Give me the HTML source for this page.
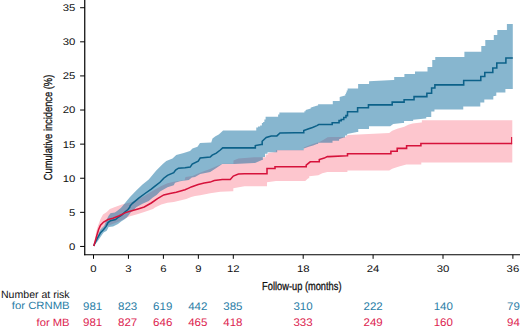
<!DOCTYPE html>
<html><head><meta charset="utf-8"><title>Cumulative incidence</title>
<style>
html,body{margin:0;padding:0;background:#fff;}
body{width:520px;height:329px;overflow:hidden;font-family:"Liberation Sans",sans-serif;}
svg{display:block;}
text{font-family:"Liberation Sans",sans-serif;text-rendering:geometricPrecision;}
.t{font-size:9.7px;fill:#111;}
.c{font-size:11.6px;fill:#111;stroke:#111;stroke-width:0.3px;}
.r{font-size:10.5px;}
.n{font-size:11px;stroke-width:0;}
</style></head><body>
<svg width="520" height="329" viewBox="0 0 520 329">
<rect width="520" height="329" fill="#fff"/>
<polygon points="93.80,245.50 94.25,243.80 96.10,232.00 98.00,225.75 100.50,218.90 103.00,214.50 106.75,212.00 109.90,208.90 115.00,207.00 122.00,204.50 130.00,202.50 136.25,200.20 142.50,197.00 148.75,193.30 155.00,189.50 161.25,186.00 167.50,183.30 173.75,181.70 180.00,180.80 184.50,180.30 185.50,177.00 192.50,176.00 197.50,173.75 203.75,171.25 210.00,169.00 216.25,166.25 222.50,163.75 232.50,163.75 233.45,163.75 233.45,160.60 238.40,158.40 254.00,157.15 264.40,157.15 265.65,157.15 265.65,154.40 268.15,154.40 268.15,153.10 275.00,151.90 275.95,151.90 275.95,150.10 302.50,150.10 303.75,150.10 303.75,147.60 310.00,145.00 315.00,143.20 320.00,141.70 324.00,139.50 327.50,137.18 331.25,137.01 345.00,137.01 348.10,134.90 389.20,132.90 392.20,130.70 397.20,128.70 404.30,126.70 408.30,124.70 412.50,123.60 421.25,122.40 421.88,122.40 421.88,120.25 512.30,120.25 512.30,162.40 421.30,162.40 421.30,164.60 420.30,164.60 406.30,164.60 398.20,166.80 392.20,168.80 389.20,170.50 347.40,170.50 347.40,172.00 346.40,172.00 327.30,172.00 322.30,173.20 318.30,175.20 309.20,176.20 309.20,178.20 308.20,178.20 305.20,181.00 276.00,181.00 267.00,182.20 267.00,186.22 266.00,186.22 254.00,186.22 244.40,186.25 233.30,188.20 233.30,191.20 232.30,191.20 220.30,191.80 210.20,193.20 200.20,195.20 195.00,196.00 191.25,196.90 186.25,199.00 180.00,200.60 173.75,201.90 167.50,202.75 161.25,204.40 155.00,207.50 153.00,208.90 144.25,212.00 138.00,213.90 129.25,216.60 119.00,221.50 108.00,225.75 103.60,227.00 100.50,230.75 98.00,237.00 94.25,245.50 93.80,246.30" fill="#fdc6ce"/>
<polygon points="93.80,245.50 94.25,243.80 100.50,229.50 104.25,225.75 106.75,219.50 108.60,215.75 110.50,213.25 114.90,212.60 117.40,210.75 120.50,208.25 121.75,207.00 130.00,196.90 136.25,190.60 142.50,184.40 148.75,179.40 150.00,178.00 156.25,170.50 162.50,164.25 166.25,161.10 172.50,158.60 176.25,154.90 183.75,153.00 190.00,151.10 192.50,148.60 197.50,146.75 200.00,143.00 211.25,142.40 212.50,138.60 215.50,136.30 218.75,134.40 221.00,132.50 223.10,130.55 255.60,130.55 256.25,130.55 256.25,127.50 257.95,127.50 257.95,126.50 260.12,126.50 260.12,125.60 261.88,125.60 261.88,123.10 263.12,123.10 263.12,121.90 264.38,121.90 264.38,119.50 265.62,119.50 265.62,116.65 277.50,116.65 278.12,116.65 278.12,114.40 279.38,114.40 279.38,112.40 303.75,112.40 304.38,112.40 304.38,111.20 305.62,111.20 305.62,110.00 310.00,108.75 310.62,108.75 310.62,107.80 312.50,106.90 317.50,105.60 318.12,105.60 318.12,104.15 332.50,104.15 332.80,104.15 332.80,100.97 339.40,100.97 339.70,100.97 339.70,96.90 345.00,95.60 345.30,95.60 345.30,94.00 345.93,94.00 345.93,92.50 346.73,92.50 346.73,90.50 347.65,90.50 347.65,88.47 357.50,88.47 358.12,88.47 358.12,84.10 368.75,84.10 369.07,84.10 369.07,81.25 393.20,80.10 394.20,80.10 394.20,77.00 404.40,77.00 404.40,74.00 415.00,74.00 415.00,71.50 427.50,71.50 427.50,67.10 432.25,67.10 432.25,60.00 435.25,60.00 435.25,57.10 464.40,57.10 464.40,51.70 481.30,51.70 481.30,46.10 485.30,46.10 485.30,40.10 493.30,40.10 493.80,40.10 493.80,35.10 497.30,35.10 497.30,30.00 506.40,30.00 506.90,30.00 506.90,24.00 512.80,24.00 512.80,88.90 505.40,88.90 505.40,92.50 504.90,92.50 496.30,92.50 496.30,95.70 495.80,95.70 493.30,96.30 493.30,99.40 492.80,99.40 484.30,99.40 484.30,102.50 483.80,102.50 480.30,102.50 480.30,106.50 479.80,106.50 463.25,106.50 463.25,109.40 462.60,109.40 434.45,109.40 434.45,111.42 434.40,111.42 431.25,111.42 431.25,117.08 430.60,117.08 426.25,117.08 426.25,118.60 425.60,118.60 413.12,119.75 413.12,121.12 412.50,121.12 404.05,121.12 404.05,122.90 403.10,122.90 402.20,122.90 393.20,124.00 390.20,126.30 369.00,126.30 369.00,129.00 368.00,129.00 358.25,129.00 358.25,131.90 357.00,131.90 347.18,133.90 347.18,135.50 345.00,135.50 345.00,137.40 343.75,137.40 339.05,139.25 339.05,140.80 338.10,140.80 332.50,140.80 332.50,142.70 331.25,142.70 318.15,142.70 318.15,144.00 316.90,144.00 313.10,145.50 308.75,146.75 303.75,148.60 303.75,150.18 302.50,150.18 295.00,150.18 277.18,150.25 277.18,152.20 276.25,152.20 267.50,152.20 267.50,153.75 265.00,153.75 265.00,156.90 262.82,156.90 262.82,160.00 261.90,160.00 255.00,163.10 254.00,163.10 234.30,164.10 222.30,164.10 216.30,168.10 210.20,172.10 200.20,174.10 195.00,176.90 191.90,177.50 188.75,180.00 180.00,181.25 175.00,182.80 173.75,185.30 167.50,187.15 160.00,191.50 156.90,194.65 152.50,197.80 148.75,200.90 142.50,203.65 136.25,207.15 135.50,207.90 133.60,210.40 131.10,212.00 129.25,214.50 126.75,217.60 124.25,219.50 121.10,221.40 118.00,223.90 113.00,226.40 108.60,227.00 106.75,230.75 103.60,232.60 100.50,237.00 98.00,240.75 94.25,245.50 93.80,246.30" fill="rgb(15,109,159)" fill-opacity="0.5"/>
<polyline points="93.80,246.00 94.25,244.50 97.40,238.25 100.50,232.60 103.60,229.50 106.10,226.40 108.00,222.60 110.50,220.75 115.50,219.50 118.60,217.00 121.75,215.10 124.90,212.00 128.00,209.50 129.90,207.00 130.00,206.10 132.50,203.30 138.75,198.10 145.00,193.50 151.25,189.10 155.00,186.10 160.00,182.25 163.75,178.20 167.50,175.30 173.75,172.60 175.60,170.00 178.50,168.20 185.00,167.75 190.20,167.10 192.20,164.10 198.20,161.10 200.20,158.10 210.20,157.10 212.20,155.10 216.30,153.10 220.30,150.00 222.70,147.88 254.40,147.88 255.32,147.88 255.32,145.60 261.25,144.40 262.18,144.40 262.18,141.25 266.25,137.50 271.25,135.93 276.90,135.93 280.00,132.93 295.00,132.71 302.50,132.71 303.75,132.71 303.75,130.60 308.75,128.75 312.50,127.50 316.90,125.60 318.75,124.58 331.25,124.58 332.18,124.58 332.18,122.80 338.10,122.80 339.05,122.80 339.05,120.60 341.25,120.60 341.25,119.40 343.75,119.40 343.75,117.50 345.95,117.50 345.95,115.60 347.50,115.60 347.50,111.65 356.50,111.65 357.62,111.65 357.62,107.75 367.50,107.75 368.45,107.75 368.45,104.88 391.25,104.88 392.18,104.88 392.18,102.12 403.20,102.12 404.10,102.12 404.10,99.70 413.10,99.70 414.05,99.70 414.05,96.60 426.25,96.60 426.88,96.60 426.88,93.30 431.30,93.30 431.60,93.30 431.60,87.90 434.60,87.90 434.90,87.90 434.90,84.85 463.20,84.85 463.70,84.85 463.70,80.40 480.30,80.40 480.80,80.40 480.80,76.40 484.30,76.40 484.80,76.40 484.80,72.40 492.30,72.40 492.80,72.40 492.80,68.00 496.30,68.00 496.80,68.00 496.80,63.00 505.40,63.00 505.90,63.00 505.90,58.00 512.80,58.00" fill="none" stroke="#0c6189" stroke-width="1.55" stroke-linejoin="miter"/>
<polyline points="93.80,246.00 94.25,244.50 96.75,235.75 98.60,229.50 100.50,225.10 103.60,222.00 108.00,219.50 113.00,218.25 119.25,215.75 125.50,212.60 131.75,210.75 138.00,208.90 144.25,207.00 151.25,203.00 157.50,198.60 163.75,194.90 170.00,193.50 176.25,192.30 185.00,189.80 188.75,188.10 191.25,186.90 198.20,184.50 204.20,183.10 210.20,182.10 214.30,180.50 222.30,179.40 230.30,179.40 233.30,176.10 238.40,174.10 244.40,173.80 254.00,173.70 266.00,173.70 267.00,173.70 267.00,168.50 274.00,168.50 275.00,168.50 275.00,166.80 305.20,166.80 306.20,166.80 306.20,165.20 310.20,161.80 318.30,161.80 319.30,161.80 319.30,159.50 324.30,158.10 327.30,156.60 328.80,156.60 346.90,155.80 347.50,155.80 347.50,153.80 390.60,153.80 390.90,153.80 390.90,151.15 396.90,151.15 397.20,151.15 397.20,148.35 406.30,148.35 406.60,148.35 406.60,145.80 420.60,145.80 420.90,145.80 420.90,143.40 512.10,143.40" fill="none" stroke="#d6123b" stroke-width="1.55" stroke-linejoin="miter"/>
<line x1="511.6" y1="137" x2="511.6" y2="144.2" stroke="#d9143d" stroke-width="1.1"/>
<line x1="84.75" y1="0" x2="84.75" y2="255.35" stroke="#000" stroke-width="1.2"/>
<line x1="84.15" y1="254.75" x2="520" y2="254.75" stroke="#000" stroke-width="1.2"/>
<line x1="80.1" y1="246.45" x2="84.75" y2="246.45" stroke="#000" stroke-width="1"/>
<line x1="80.1" y1="212.34" x2="84.75" y2="212.34" stroke="#000" stroke-width="1"/>
<line x1="80.1" y1="178.24" x2="84.75" y2="178.24" stroke="#000" stroke-width="1"/>
<line x1="80.1" y1="144.13" x2="84.75" y2="144.13" stroke="#000" stroke-width="1"/>
<line x1="80.1" y1="110.03" x2="84.75" y2="110.03" stroke="#000" stroke-width="1"/>
<line x1="80.1" y1="75.92" x2="84.75" y2="75.92" stroke="#000" stroke-width="1"/>
<line x1="80.1" y1="41.82" x2="84.75" y2="41.82" stroke="#000" stroke-width="1"/>
<line x1="80.1" y1="7.72" x2="84.75" y2="7.72" stroke="#000" stroke-width="1"/>
<line x1="93.50" y1="254.75" x2="93.50" y2="258.8" stroke="#000" stroke-width="1"/>
<line x1="128.45" y1="254.75" x2="128.45" y2="258.8" stroke="#000" stroke-width="1"/>
<line x1="163.40" y1="254.75" x2="163.40" y2="258.8" stroke="#000" stroke-width="1"/>
<line x1="198.35" y1="254.75" x2="198.35" y2="258.8" stroke="#000" stroke-width="1"/>
<line x1="233.30" y1="254.75" x2="233.30" y2="258.8" stroke="#000" stroke-width="1"/>
<line x1="303.20" y1="254.75" x2="303.20" y2="258.8" stroke="#000" stroke-width="1"/>
<line x1="373.10" y1="254.75" x2="373.10" y2="258.8" stroke="#000" stroke-width="1"/>
<line x1="443.00" y1="254.75" x2="443.00" y2="258.8" stroke="#000" stroke-width="1"/>
<line x1="512.90" y1="254.75" x2="512.90" y2="258.8" stroke="#000" stroke-width="1"/>
<g opacity="0.999">
<text class="t" x="75.4" y="249.85" text-anchor="end" textLength="6.3" lengthAdjust="spacingAndGlyphs">0</text>
<text class="t" x="75.4" y="215.75" text-anchor="end" textLength="6.3" lengthAdjust="spacingAndGlyphs">5</text>
<text class="t" x="75.4" y="181.64" text-anchor="end" textLength="12.6" lengthAdjust="spacingAndGlyphs">10</text>
<text class="t" x="75.4" y="147.53" text-anchor="end" textLength="12.6" lengthAdjust="spacingAndGlyphs">15</text>
<text class="t" x="75.4" y="113.43" text-anchor="end" textLength="12.6" lengthAdjust="spacingAndGlyphs">20</text>
<text class="t" x="75.4" y="79.32" text-anchor="end" textLength="12.6" lengthAdjust="spacingAndGlyphs">25</text>
<text class="t" x="75.4" y="45.22" text-anchor="end" textLength="12.6" lengthAdjust="spacingAndGlyphs">30</text>
<text class="t" x="75.4" y="11.12" text-anchor="end" textLength="12.6" lengthAdjust="spacingAndGlyphs">35</text>
<text class="t" x="93.50" y="271.7" text-anchor="middle" textLength="6.3" lengthAdjust="spacingAndGlyphs">0</text>
<text class="t" x="128.45" y="271.7" text-anchor="middle" textLength="6.3" lengthAdjust="spacingAndGlyphs">3</text>
<text class="t" x="163.40" y="271.7" text-anchor="middle" textLength="6.3" lengthAdjust="spacingAndGlyphs">6</text>
<text class="t" x="198.35" y="271.7" text-anchor="middle" textLength="6.3" lengthAdjust="spacingAndGlyphs">9</text>
<text class="t" x="233.30" y="271.7" text-anchor="middle" textLength="12.6" lengthAdjust="spacingAndGlyphs">12</text>
<text class="t" x="303.20" y="271.7" text-anchor="middle" textLength="12.6" lengthAdjust="spacingAndGlyphs">18</text>
<text class="t" x="373.10" y="271.7" text-anchor="middle" textLength="12.6" lengthAdjust="spacingAndGlyphs">24</text>
<text class="t" x="443.00" y="271.7" text-anchor="middle" textLength="12.6" lengthAdjust="spacingAndGlyphs">30</text>
<text class="t" x="512.90" y="271.7" text-anchor="middle" textLength="12.6" lengthAdjust="spacingAndGlyphs">36</text>
<text class="c" x="301.8" y="289.5" text-anchor="middle" textLength="79.4" lengthAdjust="spacingAndGlyphs">Follow-up (months)</text>
<text class="c" transform="translate(52.4 127.5) rotate(-90)" x="0" y="0" text-anchor="middle" textLength="105.5" lengthAdjust="spacingAndGlyphs">Cumulative incidence (%)</text>
<text class="r" x="1" y="297.6" fill="#111" textLength="68.6" lengthAdjust="spacingAndGlyphs">Number at risk</text>
<text class="r" x="69.6" y="309.4" fill="#2a7da6" text-anchor="end" textLength="57.8" lengthAdjust="spacingAndGlyphs">for CRNMB</text>
<text class="r" x="69.6" y="325.5" fill="#dc2350" text-anchor="end" textLength="33" lengthAdjust="spacingAndGlyphs">for MB</text>
<text class="n" x="92.60" y="309.8" fill="#2a7da6" stroke="#2a7da6" text-anchor="middle" textLength="19.2" lengthAdjust="spacingAndGlyphs">981</text>
<text class="n" x="92.60" y="326.0" fill="#dc2350" stroke="#dc2350" text-anchor="middle" textLength="19.2" lengthAdjust="spacingAndGlyphs">981</text>
<text class="n" x="127.67" y="309.8" fill="#2a7da6" stroke="#2a7da6" text-anchor="middle" textLength="19.2" lengthAdjust="spacingAndGlyphs">823</text>
<text class="n" x="127.67" y="326.0" fill="#dc2350" stroke="#dc2350" text-anchor="middle" textLength="19.2" lengthAdjust="spacingAndGlyphs">827</text>
<text class="n" x="162.74" y="309.8" fill="#2a7da6" stroke="#2a7da6" text-anchor="middle" textLength="19.2" lengthAdjust="spacingAndGlyphs">619</text>
<text class="n" x="162.74" y="326.0" fill="#dc2350" stroke="#dc2350" text-anchor="middle" textLength="19.2" lengthAdjust="spacingAndGlyphs">646</text>
<text class="n" x="197.81" y="309.8" fill="#2a7da6" stroke="#2a7da6" text-anchor="middle" textLength="19.2" lengthAdjust="spacingAndGlyphs">442</text>
<text class="n" x="197.81" y="326.0" fill="#dc2350" stroke="#dc2350" text-anchor="middle" textLength="19.2" lengthAdjust="spacingAndGlyphs">465</text>
<text class="n" x="232.88" y="309.8" fill="#2a7da6" stroke="#2a7da6" text-anchor="middle" textLength="19.2" lengthAdjust="spacingAndGlyphs">385</text>
<text class="n" x="232.88" y="326.0" fill="#dc2350" stroke="#dc2350" text-anchor="middle" textLength="19.2" lengthAdjust="spacingAndGlyphs">418</text>
<text class="n" x="303.02" y="309.8" fill="#2a7da6" stroke="#2a7da6" text-anchor="middle" textLength="19.2" lengthAdjust="spacingAndGlyphs">310</text>
<text class="n" x="303.02" y="326.0" fill="#dc2350" stroke="#dc2350" text-anchor="middle" textLength="19.2" lengthAdjust="spacingAndGlyphs">333</text>
<text class="n" x="373.16" y="309.8" fill="#2a7da6" stroke="#2a7da6" text-anchor="middle" textLength="19.2" lengthAdjust="spacingAndGlyphs">222</text>
<text class="n" x="373.16" y="326.0" fill="#dc2350" stroke="#dc2350" text-anchor="middle" textLength="19.2" lengthAdjust="spacingAndGlyphs">249</text>
<text class="n" x="443.30" y="309.8" fill="#2a7da6" stroke="#2a7da6" text-anchor="middle" textLength="19.2" lengthAdjust="spacingAndGlyphs">140</text>
<text class="n" x="443.30" y="326.0" fill="#dc2350" stroke="#dc2350" text-anchor="middle" textLength="19.2" lengthAdjust="spacingAndGlyphs">160</text>
<text class="n" x="513.44" y="309.8" fill="#2a7da6" stroke="#2a7da6" text-anchor="middle" textLength="12.8" lengthAdjust="spacingAndGlyphs">79</text>
<text class="n" x="513.44" y="326.0" fill="#dc2350" stroke="#dc2350" text-anchor="middle" textLength="12.8" lengthAdjust="spacingAndGlyphs">94</text>
</g>
</svg>
</body></html>
